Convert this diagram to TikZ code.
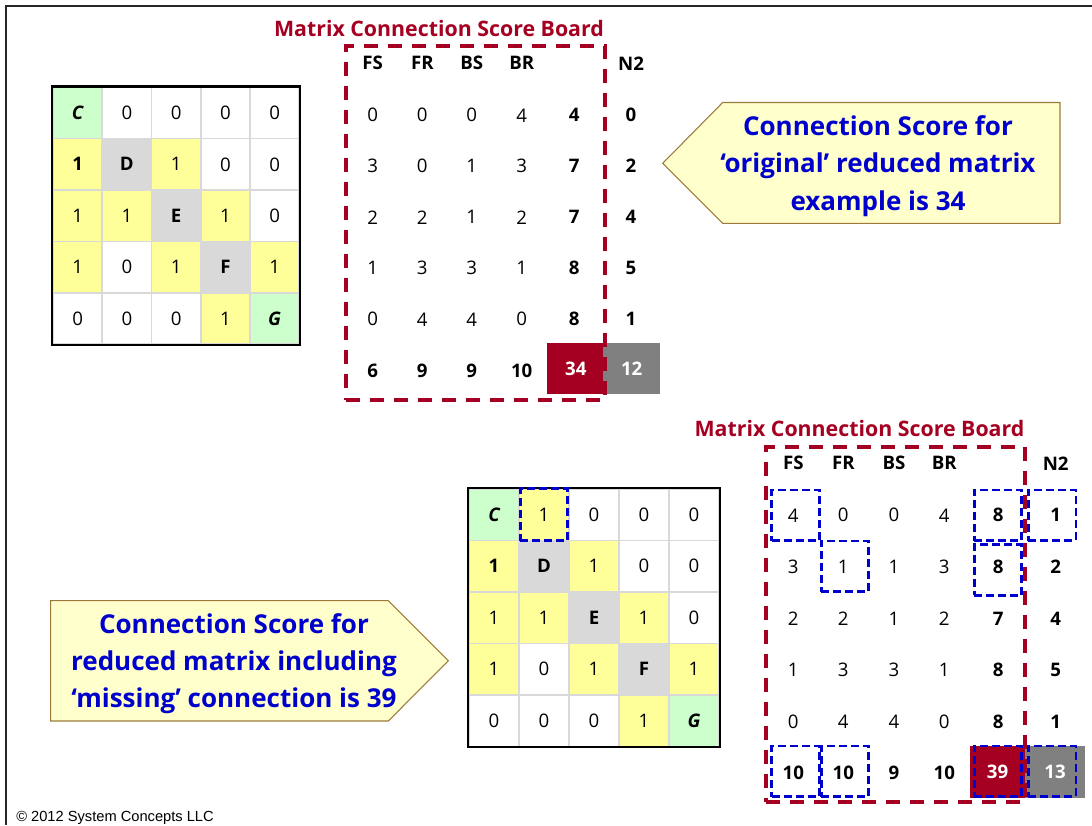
\documentclass[tikz,border=0pt]{standalone}
\usepackage{fontspec}
\setmainfont{Open Sans}
\newfontfamily\arialf{Liberation Sans}
\definecolor{cgreen}{HTML}{CCFFCC}
\definecolor{cyellow}{HTML}{FFFF99}
\definecolor{cgray}{HTML}{D9D9D9}
\definecolor{gridc}{HTML}{D9D9D9}
\definecolor{dred}{HTML}{A50021}
\definecolor{tblue}{HTML}{0000CC}
\definecolor{cream}{HTML}{FFFFCC}
\definecolor{brownb}{HTML}{9C7A3C}
\definecolor{boxgray}{HTML}{808080}
\begin{document}
\begin{tikzpicture}[x=0.75pt,y=-0.75pt,
  cell/.style={draw=gridc, line width=1.2pt, inner sep=0pt, font=\fontsize{14}{16}\selectfont},
  num/.style={inner sep=0pt, font=\fontsize{14}{16}\selectfont},
  bnum/.style={inner sep=0pt, font=\fontsize{14}{16}\selectfont\bfseries},
  boardtitle/.style={text=dred, inner sep=0pt, font=\fontsize{16}{18}\selectfont\bfseries},
  board/.style={draw=dred, line width=2.8pt, dash pattern=on 10.5pt off 7.5pt, inner sep=0pt},
  hl/.style={draw=tblue, line width=2.1pt, dash pattern=on 6pt off 3pt, inner sep=0pt, minimum width=35.7pt, minimum height=38pt},
  callout/.style={fill=cream, draw=brownb, line width=0.8pt},
  ctext/.style={text=tblue, align=center, inner sep=0pt, font=\fontsize{19.5}{27.9}\selectfont\bfseries},
  redbox/.style={fill=dred, text=white, inner sep=0pt, font=\fontsize{14}{16}\selectfont\bfseries},
  graybox/.style={fill=boxgray, text=white, inner sep=0pt, font=\fontsize{14}{16}\selectfont\bfseries},
]
\useasboundingbox (0,0) rectangle (1092,825);
% page frame
\draw[line width=1.4pt, black!85] (6,825) -- (6,6) -- (1092,6);

% ---------- top matrix ----------
\foreach \r/\c/\t/\f/\s in {
1/1/C/cgreen/\bfseries\itshape, 1/2/0/white/\relax, 1/3/0/white/\relax, 1/4/0/white/\relax, 1/5/0/white/\relax,
2/1/1/cyellow/\bfseries, 2/2/D/cgray/\bfseries, 2/3/1/cyellow/\relax, 2/4/0/white/\relax, 2/5/0/white/\relax,
3/1/1/cyellow/\relax, 3/2/1/cyellow/\relax, 3/3/E/cgray/\bfseries, 3/4/1/cyellow/\relax, 3/5/0/white/\relax,
4/1/1/cyellow/\relax, 4/2/0/white/\relax, 4/3/1/cyellow/\relax, 4/4/F/cgray/\bfseries, 4/5/1/cyellow/\relax,
5/1/0/white/\relax, 5/2/0/white/\relax, 5/3/0/white/\relax, 5/4/1/cyellow/\relax, 5/5/G/cgreen/\bfseries\itshape}
{\node[cell, fill=\f, minimum width=36.94pt, minimum height=38.5pt] (A\r\c) at ({53+(\c-0.5)*49.25},{87.3+(\r-0.5)*51.35}) {\s\t};}
\draw[line width=1.8pt] (A11.north west) rectangle (A55.south east);

% ---------- bottom matrix ----------
\foreach \r/\c/\t/\f/\s in {
1/1/C/cgreen/\bfseries\itshape, 1/2/1/cyellow/\relax, 1/3/0/white/\relax, 1/4/0/white/\relax, 1/5/0/white/\relax,
2/1/1/cyellow/\bfseries, 2/2/D/cgray/\bfseries, 2/3/1/cyellow/\relax, 2/4/0/white/\relax, 2/5/0/white/\relax,
3/1/1/cyellow/\relax, 3/2/1/cyellow/\relax, 3/3/E/cgray/\bfseries, 3/4/1/cyellow/\relax, 3/5/0/white/\relax,
4/1/1/cyellow/\relax, 4/2/0/white/\relax, 4/3/1/cyellow/\relax, 4/4/F/cgray/\bfseries, 4/5/1/cyellow/\relax,
5/1/0/white/\relax, 5/2/0/white/\relax, 5/3/0/white/\relax, 5/4/1/cyellow/\relax, 5/5/G/cgreen/\bfseries\itshape}
{\node[cell, fill=\f, minimum width=37.5pt, minimum height=38.6pt] (B\r\c) at ({469+(\c-0.5)*50},{489+(\r-0.5)*51.5}) {\s\t};}
\draw[line width=1.8pt] (B11.north west) rectangle (B55.south east);
\node[hl, minimum width=35.5pt, minimum height=39pt] (HB) at (B12) {};

% ---------- top score board ----------
\node[boardtitle] (TT) at (439,28.3) {Matrix Connection Score Board};
\foreach \x/\t [count=\i] in {372.7/FS,422.3/FR,471.7/BS,521.7/BR,631/N2}
  {\node[bnum] (TH\i) at (\x,63.3) {\t};}
\foreach \y/\a/\b/\c/\d/\e/\n [count=\i] in {115.3/0/0/0/4/4/0, 166/3/0/1/3/7/2, 217.3/2/2/1/2/7/4, 268.3/1/3/3/1/8/5, 319.3/0/4/4/0/8/1}
{
  \node[num] (T\i-1) at (372.7,\y) {\a};
  \node[num] (T\i-2) at (422.3,\y) {\b};
  \node[num] (T\i-3) at (471.7,\y) {\c};
  \node[num] (T\i-4) at (521.7,\y) {\d};
  \node[bnum] (T\i-5) at (574.3,\y) {\e};
  \node[bnum] (T\i-6) at (631,\y) {\n};
}
\node[bnum] (TS1) at (372.7,371) {6};
\node[bnum] (TS2) at (422.3,371) {9};
\node[bnum] (TS3) at (471.7,371) {9};
\node[bnum] (TS4) at (521.7,371) {10};
\node[redbox, minimum width=43.7pt, minimum height=38pt] (TS5) at (575.8,368.7) {34};
\node[graybox, minimum width=42.5pt, minimum height=38pt] (TS6) at (631.7,368.7) {12};
\node[board, minimum width=194.25pt, minimum height=265.5pt] (TB) at (475.5,223) {};

% ---------- bottom score board ----------
\node[boardtitle] (BT) at (859.5,428) {Matrix Connection Score Board};
\foreach \x/\t [count=\i] in {793.3/FS,843.3/FR,894/BS,944.3/BR,1055.7/N2}
  {\node[bnum] (BH\i) at (\x,463.3) {\t};}
\foreach \y/\a/\b/\c/\d/\e/\n [count=\i] in {515.3/4/0/0/4/8/1, 566.7/3/1/1/3/8/2, 619/2/2/1/2/7/4, 670/1/3/3/1/8/5, 721.7/0/4/4/0/8/1}
{
  \node[num] (S\i-1) at (793.3,\y) {\a};
  \node[num] (S\i-2) at (843.3,\y) {\b};
  \node[num] (S\i-3) at (894,\y) {\c};
  \node[num] (S\i-4) at (944.3,\y) {\d};
  \node[bnum] (S\i-5) at (998.3,\y) {\e};
  \node[bnum] (S\i-6) at (1055.7,\y) {\n};
}
\node[bnum] (SS1) at (793.3,773.3) {10};
\node[bnum] (SS2) at (843.3,773.3) {10};
\node[bnum] (SS3) at (894,773.3) {9};
\node[bnum] (SS4) at (944.3,773.3) {10};
\node[redbox, minimum width=41.25pt, minimum height=39.2pt] (SS5) at (997.5,772.2) {39};
\node[graybox, minimum width=45pt, minimum height=39.2pt] (SS6) at (1055,772.2) {13};
\node[board, minimum width=194.25pt, minimum height=266.25pt] (SB) at (895.5,624.2) {};

% blue highlight boxes
\node[hl] (H1) at (795.5,515.35) {};
\node[hl] (H2) at (845,566.4) {};
\node[hl] (H3) at (998,515.35) {};
\node[hl] (H4) at (998,570) {};
\node[hl] (H5) at (1052.2,515.35) {};
\node[hl] (H6) at (795.5,771.35) {};
\node[hl] (H7) at (845,771.35) {};
\node[hl] (H8) at (998,771.35) {};
\node[hl] (H9) at (1052.2,771.35) {};

% ---------- callouts ----------
\draw[callout] (662.7,163.3) -- (722.7,102.5) -- (1060,102.5) -- (1060,223.3) -- (722.7,223.3) -- cycle;
\node[ctext] (C1) at (878,166) {Connection Score for\\‘original’ reduced matrix\\example is 34};
\draw[callout] (50.7,600.7) -- (388.3,600.7) -- (448.3,660.7) -- (388.3,721) -- (50.7,721) -- cycle;
\node[ctext] (C2) at (234,663.5) {Connection Score for\\reduced matrix including\\‘missing’ connection is 39};

% copyright
\node[anchor=west, inner sep=0pt, font=\arialf\fontsize{11}{13}\selectfont] (CR) at (16,818) {© 2012 System Concepts LLC};
\end{tikzpicture}
\end{document}
